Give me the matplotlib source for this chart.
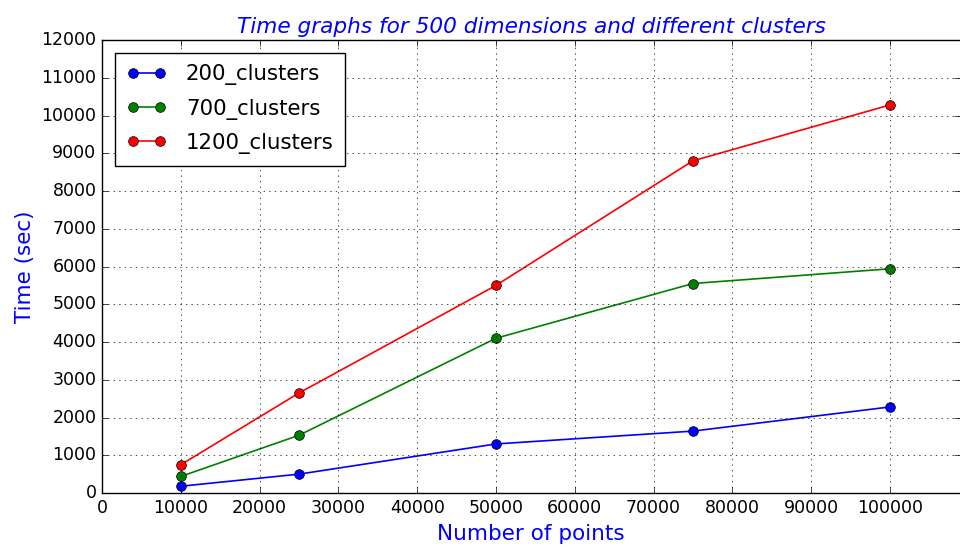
import matplotlib
matplotlib.use("Agg")
import matplotlib.pyplot as plt

plt.style.use("classic")
plt.rcParams['font.family'] = ['DejaVu Sans']

x_points = [10000, 25000, 50000, 75000, 100000]
series_names = ["200_clusters", "700_clusters", "1200_clusters"]
t_200 = [180, 500, 1300, 1640, 2280]
t_700 = [440, 1530, 4100, 5550, 5940]
t_1200 = [750, 2650, 5500, 8800, 10280]
colors = ["b", "g", "r"]

fig = plt.figure(figsize=(9.6, 5.5), dpi=100, facecolor="white")
ax = fig.add_axes([0.1063, 0.1036, 0.8937, 0.8236])

for name, vals, c in zip(series_names, [t_200, t_700, t_1200], colors):
    ax.plot(x_points, vals, color=c, marker="o", markersize=7, linewidth=1.2,
            label=name)

ax.set_xlim(0, 108900)
ax.set_ylim(0, 12000)
ax.set_xticks(range(0, 100001, 10000))
ax.set_yticks(range(0, 12001, 1000))
ax.tick_params(labelsize=12.5)
ax.grid(True, linestyle=":", color="k")
ax.spines["right"].set_visible(False)

ax.set_title("Time graphs for 500 dimensions and different clusters",
             color="b", style="italic", fontsize=15.6)
ax.set_xlabel("Number of points", color="b", fontsize=15.5)
ax.set_ylabel("Time (sec)", color="b", fontsize=15.5)

leg = ax.legend(loc="upper left", fontsize=15.3, numpoints=2,
                labelspacing=0.62, borderpad=0.55, handlelength=1.9,
                handletextpad=0.9, borderaxespad=0.6)

fig.savefig("out.png", dpi=100, facecolor="white")
